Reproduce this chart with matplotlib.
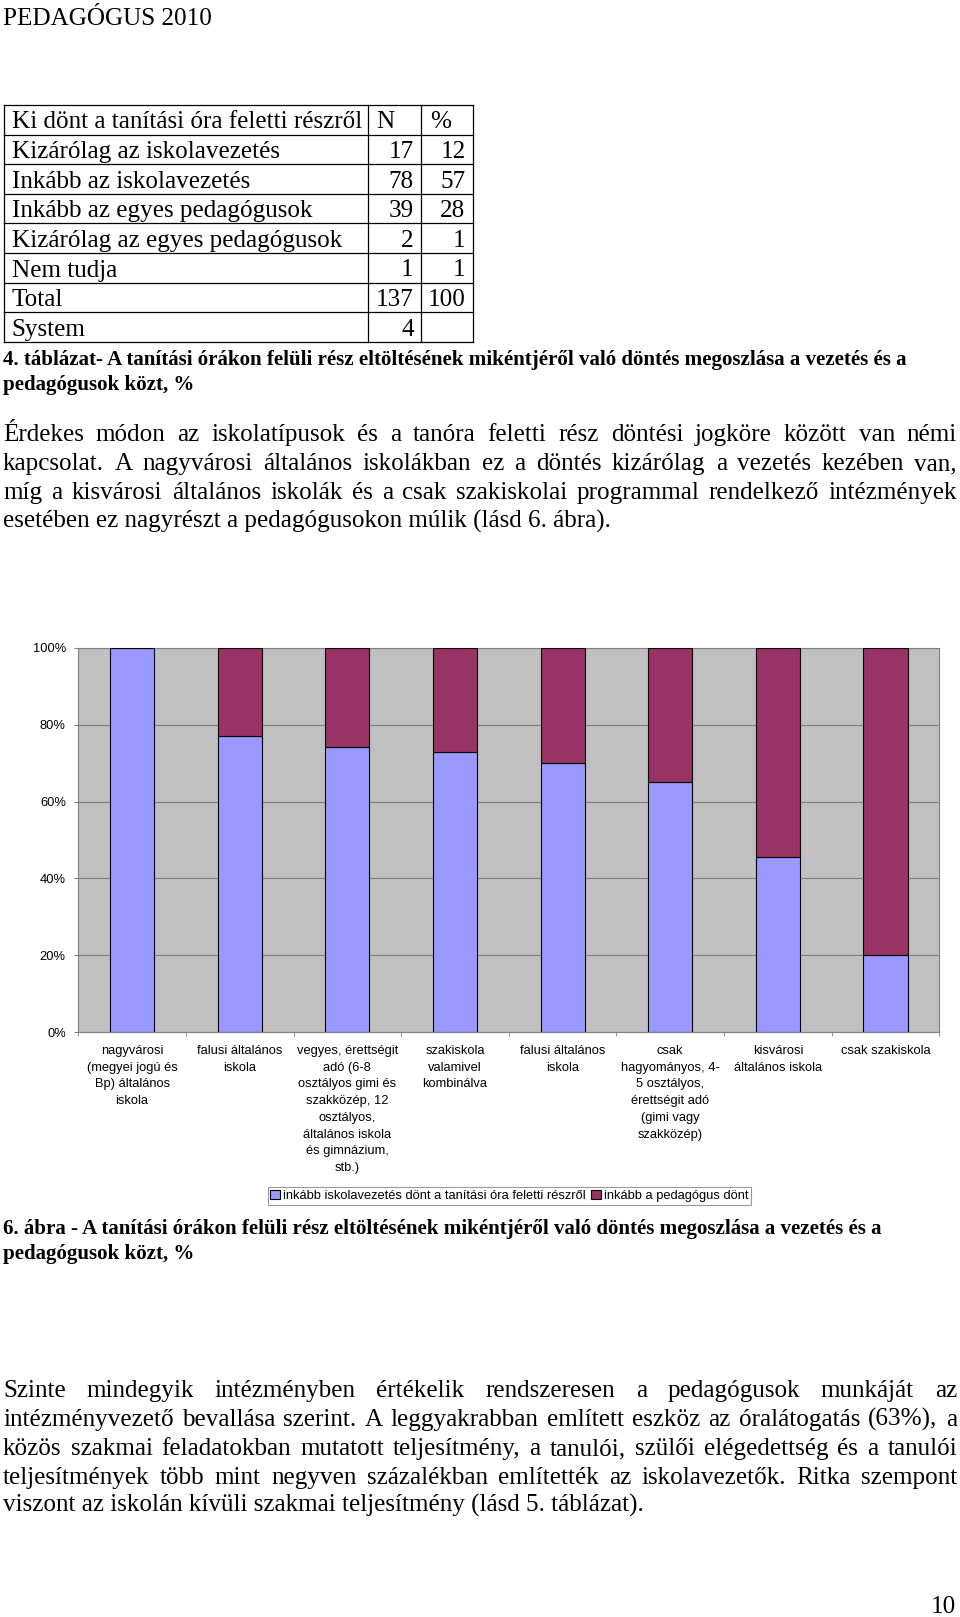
import matplotlib

matplotlib.use("Agg")
import matplotlib.pyplot as plt
import numpy as np
from matplotlib.lines import Line2D


PAGE_W, PAGE_H = 960, 1617
SERIF = "Liberation Serif"
SANS = "Liberation Sans"

HEADER = "PEDAGÓGUS 2010"
PAGE_NUMBER = "10"

table_header = ["Ki dönt a tanítási óra feletti részről", "N", "%"]
table_labels = [
    "Kizárólag az iskolavezetés",
    "Inkább az iskolavezetés",
    "Inkább az egyes pedagógusok",
    "Kizárólag az egyes pedagógusok",
    "Nem tudja",
    "Total",
    "System",
]
table_n = ["17", "78", "39", "2", "1", "137", "4"]
table_pct = ["12", "57", "28", "1", "1", "100", ""]

caption_table = [
    "4. táblázat- A tanítási órákon felüli rész eltöltésének mikéntjéről való döntés megoszlása a vezetés és a",
    "pedagógusok közt, %",
]
paragraph_1 = [
    "Érdekes módon az iskolatípusok és a tanóra feletti rész döntési jogköre között van némi",
    "kapcsolat. A nagyvárosi általános iskolákban ez a döntés kizárólag a vezetés kezében van,",
    "míg a kisvárosi általános iskolák és a csak szakiskolai programmal rendelkező intézmények",
    "esetében ez nagyrészt a pedagógusokon múlik (lásd 6. ábra).",
]

schools = [
    "nagyvárosi\n(megyei jogú és\nBp) általános\niskola",
    "falusi általános\niskola",
    "vegyes, érettségit\nadó (6-8\nosztályos gimi és\nszakközép, 12\nosztályos,\náltalános iskola\nés gimnázium,\nstb.)",
    "szakiskola\nvalamivel\nkombinálva",
    "falusi általános\niskola",
    "csak\nhagyományos, 4-\n5 osztályos,\nérettségit adó\n(gimi vagy\nszakközép)",
    "kisvárosi\náltalános iskola",
    "csak szakiskola",
]
vezetes = [100, 77, 74.3, 73, 70, 65, 45.5, 20]
pedagogus = [0, 23, 25.7, 27, 30, 35, 54.5, 80]
legend_labels = [
    "inkább iskolavezetés dönt a tanítási óra feletti részről",
    "inkább a pedagógus dönt",
]
y_ticks = [0, 20, 40, 60, 80, 100]

caption_chart = [
    "6. ábra - A tanítási órákon felüli rész eltöltésének mikéntjéről való döntés megoszlása a vezetés és a",
    "pedagógusok közt, %",
]
paragraph_2 = [
    "Szinte mindegyik intézményben értékelik rendszeresen a pedagógusok munkáját az",
    "intézményvezető bevallása szerint. A leggyakrabban említett eszköz az óralátogatás (63%), a",
    "közös szakmai feladatokban mutatott teljesítmény, a tanulói, szülői elégedettség és a tanulói",
    "teljesítmények több mint negyven százalékban említették az iskolavezetők. Ritka szempont",
    "viszont az iskolán kívüli szakmai teljesítmény (lásd 5. táblázat).",
]


def text_width(ax, renderer, s, size, weight="normal", family=SERIF):
    t = ax.text(0, 0, s, fontsize=size, family=family, weight=weight)
    width = t.get_window_extent(renderer).width
    t.remove()
    return width


def fit_size(ax, renderer, s, width, weight="normal"):
    return 20 * width / text_width(ax, renderer, s, 20, weight)


def draw_justified(ax, renderer, lines, baselines, size, x0=3, x1=957):
    for k, (line, y) in enumerate(zip(lines, baselines)):
        words = line.split(" ")
        if k == len(lines) - 1:
            ax.text(x0, y, line, fontsize=size, family=SERIF, va="baseline")
            continue
        widths = [text_width(ax, renderer, w, size) for w in words]
        gap = (x1 - x0 - sum(widths)) / (len(words) - 1)
        x = x0
        for word, w in zip(words, widths):
            ax.text(x, y, word, fontsize=size, family=SERIF, va="baseline")
            x += w + gap


fig = plt.figure(figsize=(PAGE_W / 100, PAGE_H / 100), dpi=100)
page = fig.add_axes([0, 0, 1, 1])
page.set_xlim(0, PAGE_W)
page.set_ylim(PAGE_H, 0)
page.axis("off")
renderer = fig.canvas.get_renderer()

# header
header_size = fit_size(page, renderer, HEADER, 208)
page.text(3, 25, HEADER, fontsize=header_size, family=SERIF, va="baseline")

# table
col_x = [4, 367.7, 421, 473.3]
row_top, row_h = 105, 29.6
n_rows = len(table_labels) + 1
table_size = fit_size(page, renderer, table_header[0], 350)
for i in range(n_rows + 1):
    y = row_top + i * row_h
    page.add_line(Line2D([col_x[0], col_x[-1]], [y, y], color="black", lw=0.9))
for x in col_x:
    page.add_line(Line2D([x, x], [row_top, row_top + n_rows * row_h], color="black", lw=0.9))

base = row_top + 23.5
page.text(11.7, base, table_header[0], fontsize=table_size, family=SERIF, va="baseline")
page.text(376, base, table_header[1], fontsize=table_size, family=SERIF, va="baseline")
page.text(430, base, table_header[2], fontsize=table_size, family=SERIF, va="baseline")
for i, (label, n, pct) in enumerate(zip(table_labels, table_n, table_pct), start=1):
    y = base + i * row_h
    page.text(11.7, y, label, fontsize=table_size, family=SERIF, va="baseline")
    page.text(413.5, y, n, fontsize=table_size, family=SERIF, va="baseline", ha="right")
    page.text(465.5, y, pct, fontsize=table_size, family=SERIF, va="baseline", ha="right")

# captions and body text
caption_size = fit_size(page, renderer, caption_table[0], 909, weight="bold")
for line, y in zip(caption_table, [365, 390]):
    page.text(3, y, line, fontsize=caption_size, family=SERIF, weight="bold", va="baseline")

body_size = fit_size(page, renderer, paragraph_2[-1], 644)
draw_justified(page, renderer, paragraph_1, [441, 470, 499, 528], body_size)

for line, y in zip(caption_chart, [1234, 1259]):
    page.text(3, y, line, fontsize=caption_size, family=SERIF, weight="bold", va="baseline")

draw_justified(page, renderer, paragraph_2, [1397, 1426, 1455, 1484, 1512], body_size)
page.text(956, 1613, PAGE_NUMBER, fontsize=body_size, family=SERIF, va="baseline", ha="right")

# chart
chart_font = 9.3
ax = fig.add_axes([78.3 / PAGE_W, 1 - 1032.3 / PAGE_H, 861 / PAGE_W, 384.6 / PAGE_H])
x = np.arange(len(schools))
bars_a = ax.bar(x, vezetes, width=0.41, color="#9999FF", edgecolor="black", lw=0.8,
                label=legend_labels[0], zorder=3)
bars_b = ax.bar(x, pedagogus, bottom=vezetes, width=0.41, color="#993366", edgecolor="black",
                lw=0.8, label=legend_labels[1], zorder=3)
ax.set_xlim(-0.5, len(schools) - 0.5)
ax.set_ylim(0, 100)
ax.set_facecolor("#C0C0C0")
ax.set_yticks(y_ticks)
ax.set_yticklabels([f"{v}%" for v in y_ticks], fontsize=chart_font, family=SANS)
ax.yaxis.grid(True, color="#808080", lw=0.8)
ax.set_axisbelow(True)
ax.set_xticks(x)
ax.set_xticklabels(schools, fontsize=chart_font, family=SANS, linespacing=1.53, va="top")
ax.set_xticks(np.arange(-0.5, len(schools)), minor=True)
ax.tick_params(axis="x", which="major", length=0, pad=9)
ax.tick_params(axis="x", which="minor", length=3, color="#808080")
ax.tick_params(axis="y", length=3, color="#808080", pad=6)
for spine in ax.spines.values():
    spine.set_color("#808080")
    spine.set_linewidth(0.8)

leg = fig.legend(
    handles=[bars_a, bars_b],
    loc="center",
    bbox_to_anchor=(509.5 / PAGE_W, 1 - 1196 / PAGE_H),
    ncol=2,
    prop={"family": SANS, "size": chart_font},
    frameon=True,
    fancybox=False,
    borderpad=0.2,
    handlelength=0.75,
    handleheight=0.75,
    handletextpad=0.25,
    columnspacing=0.4,
    borderaxespad=0,
)
leg.get_frame().set_edgecolor("#808080")
leg.get_frame().set_linewidth(0.8)

fig.savefig("out.png", dpi=100)
